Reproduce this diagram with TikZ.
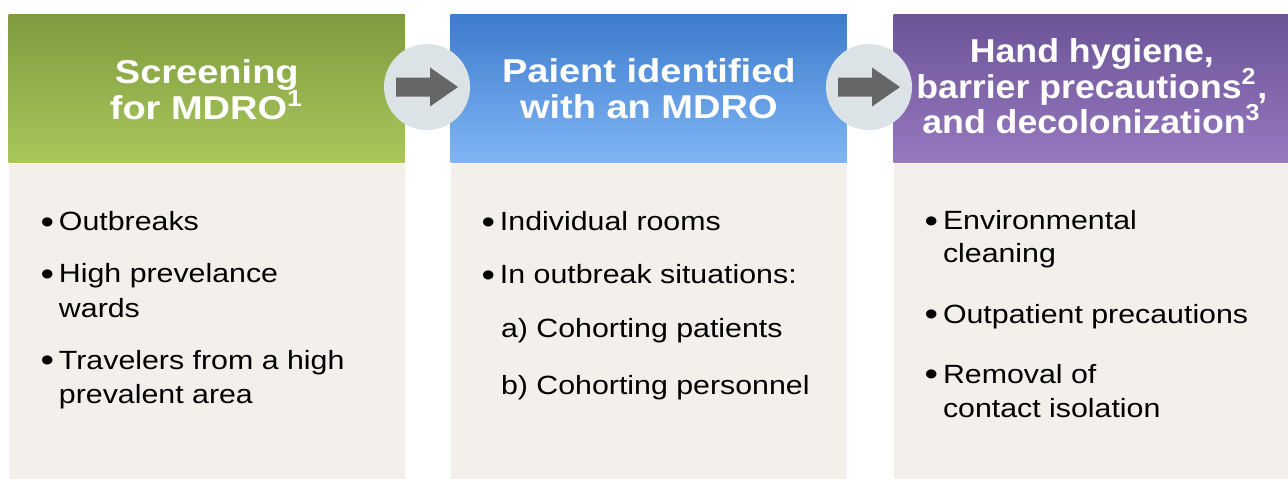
\documentclass[tikz,border=0pt]{standalone}
\usepackage{fontspec}
\setmainfont[FakeStretch=1.15]{Liberation Sans}
\newfontfamily\narrowhead[FakeStretch=1.08]{Liberation Sans}
\definecolor{greentop}{HTML}{7F9B3F}
\definecolor{greenbot}{HTML}{A9C75B}
\definecolor{bluetop}{HTML}{3D7BCC}
\definecolor{bluebot}{HTML}{80B6F5}
\definecolor{violettop}{HTML}{6C5497}
\definecolor{violetbot}{HTML}{9678BF}
\definecolor{paper}{HTML}{F3EFEA}
\definecolor{hubgray}{HTML}{DCE3E6}
\definecolor{arrowgray}{HTML}{666666}
\newcommand{\headfont}{\fontsize{9.4}{10.2}\selectfont\bfseries}
\newcommand{\bodyfont}{\fontsize{7.5}{9.8}\selectfont}
\newcommand{\bul}{\strut\makebox[5.2pt][l]{\raisebox{-0.7pt}{\fontsize{9.5}{9}\selectfont\textbullet}}}
\newcommand{\note}[1]{\textsuperscript{\smash{#1}}}
\begin{document}
\begin{tikzpicture}[x=0.01cm,y=-0.01cm,
  head/.style={anchor=north west, minimum width=3.96cm, minimum height=1.48cm,
    inner sep=0pt},
  title/.style={inner sep=0pt, text=white, align=center, font=\headfont},
  panelbody/.style={anchor=north west, fill=paper, minimum width=3.96cm,
    minimum height=3.16cm, inner sep=0pt},
  items/.style={anchor=north west, inner sep=0pt, font=\bodyfont, align=left},
  hub/.style={circle, fill=hubgray, minimum size=0.86cm, inner sep=0pt}]
\useasboundingbox (0,0) rectangle (1288,478);
% Screening
\node[head, top color=greentop, bottom color=greenbot] (screen) at (8,14) {};
\node[title] (screentitle) at ([shift={(0,1)}]screen.center)
  {Screening\\for MDRO\note{1}};
\node[panelbody] (screenbody) at (screen.south west) {};
\node[items] (screenlist) at (40,206) {%
  \bul Outbreaks\\[5pt]
  \bul High prevelance\\
  \hspace*{5.2pt}wards\\[5pt]
  \bul Travelers from a high\\
  \hspace*{5.2pt}prevalent area};
% Patient identified
\node[head, top color=bluetop, bottom color=bluebot] (patient) at (450,14) {};
\node[title] (patienttitle) at (patient.center)
  {Paient identified\\with an MDRO};
\node[panelbody] (patientbody) at (patient.south west) {};
\node[items] (patientlist) at (481,206) {%
  \bul Individual rooms\\[5.3pt]
  \bul In outbreak situations:\\[5.3pt]
  \hspace*{5.5pt}a) Cohorting patients\\[6.4pt]
  \hspace*{5.5pt}b) Cohorting personnel};
% Precautions
\node[head, top color=violettop, bottom color=violetbot] (hygiene) at (893,14) {};
\node[title, font=\headfont\narrowhead] (hygienetitle) at ([shift={(0,-2.5)}]hygiene.center)
  {Hand hygiene,\\barrier precautions\note{2},\\and decolonization\note{3}};
\node[panelbody] (hygienebody) at (hygiene.south west) {};
\node[items] (hygienelist) at (924,205) {%
  \bul Environmental\\[-0.4pt]
  \hspace*{5.2pt}cleaning\\[7.3pt]
  \bul Outpatient precautions\\[7.3pt]
  \bul Removal of\\
  \hspace*{5.2pt}contact isolation};
% arrows between the panels
\node[hub] (hubA) at (427,87) {};
\node[hub] (hubB) at (869,87) {};
\foreach \h in {hubA,hubB}
  \fill[arrowgray] ([shift={(-31,-9.5)}]\h.center) -- ([shift={(3,-9.5)}]\h.center)
    -- ([shift={(3,-19.5)}]\h.center) -- ([shift={(31,0)}]\h.center)
    -- ([shift={(3,19.5)}]\h.center) -- ([shift={(3,9.5)}]\h.center)
    -- ([shift={(-31,9.5)}]\h.center) -- cycle;
\end{tikzpicture}
\end{document}
